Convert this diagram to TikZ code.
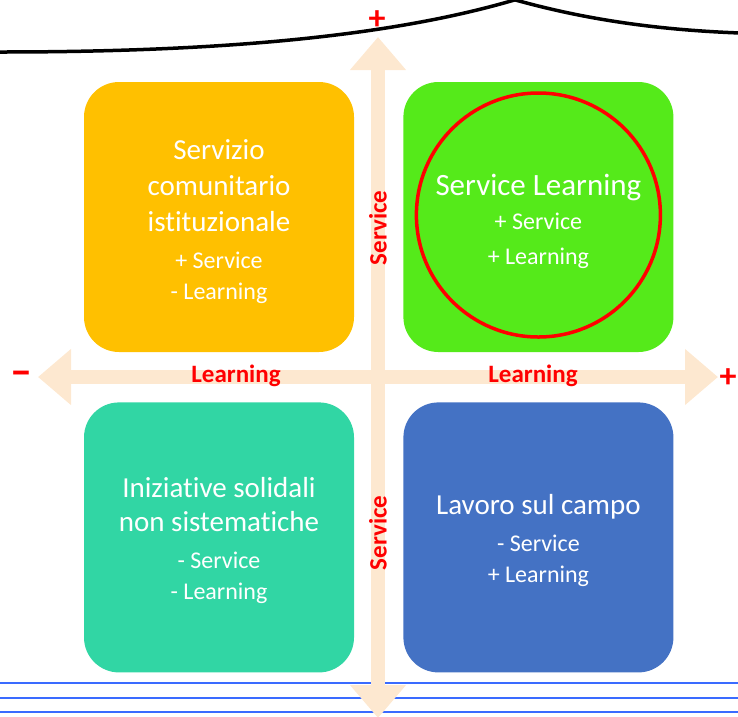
\documentclass[tikz,border=0pt]{standalone}
\usepackage{fontspec}
\setmainfont{Carlito}[Ligatures=NoCommon]
\usetikzlibrary{arrows.meta,positioning}
\definecolor{amber}{HTML}{FFC000}
\definecolor{lime}{HTML}{55EA1A}
\definecolor{mint}{HTML}{31D6A4}
\definecolor{steel}{HTML}{4472C4}
\definecolor{peach}{HTML}{FDE8D0}
\definecolor{rule}{HTML}{3A6BFF}
\newcommand\subtxt{\fontsize{24}{31}\selectfont}

\begin{document}
\begin{tikzpicture}[x=1pt, y=-1pt,
    quadbox/.style={rounded corners=35pt, minimum width=270pt, minimum height=270pt,
        inner sep=0pt, text=white, align=center, font=\fontsize{29}{36}\selectfont},
    arrowbar/.style={draw=peach, line width=13.5pt,
        {Triangle[width=54pt,length=33pt]}-{Triangle[width=54pt,length=33pt]}},
    lbl/.style={text=red, font=\bfseries\fontsize{25}{25}\selectfont},
    sign/.style={text=red, inner sep=0pt, font=\bfseries\fontsize{34}{34}\selectfont}]
    \useasboundingbox (0,0) rectangle (738,716);

    % curves on top
    \begin{scope}
    \clip (0,0) rectangle (738,716);
    \draw[line width=3.5pt] (0,52) .. controls (250,52) and (420,32) .. (540,-8);
    \draw[line width=3.5pt] (495,-6) .. controls (580,20) and (660,30) .. (740,33);
    \end{scope}

    % quadrants
    \node[quadbox, fill=amber] (sci) at (219,217)
        {\rule{0pt}{29pt}Servizio\\comunitario\\istituzionale\\[1pt]\subtxt + Service\\[-5pt]\subtxt - Learning};
    \node[quadbox, fill=lime, right=49pt of sci] (sl)
        {\fontsize{31}{36}\selectfont\rule{0pt}{30pt}Service Learning\\[-2pt]\subtxt + Service\\[-1pt]\subtxt + Learning};
    \node[quadbox, fill=mint, below=50pt of sci] (ins)
        {\rule{0pt}{26pt}Iniziative solidali\\[-2pt]non sistematiche\\[1pt]\subtxt - Service\\[-5pt]\subtxt - Learning};
    \node[quadbox, fill=steel, right=49pt of ins] (lsc)
        {\rule{0pt}{26pt}Lavoro sul campo\\[1pt]\subtxt - Service\\[-5pt]\subtxt + Learning};
    \draw[red, line width=3.5pt] ([yshift=2pt]sl.center) circle[radius=122];

    % lines at the bottom
    \foreach \y in {683,698,712}
        \draw[rule, line width=2.5pt] (0,\y) -- (738,\y);

    % axes
    \coordinate (top) at (378,37);
    \coordinate (bot) at (378,718);
    \coordinate (lft) at (38,377);
    \coordinate (rgt) at (718,377);
    \draw[arrowbar] (bot) -- (top);
    \draw[arrowbar] (lft) -- (rgt);

    \node[lbl] (learnL) at (236,376) {Learning};
    \node[lbl] (learnR) at (533,376) {Learning};
    \node[lbl, rotate=90] (servT) at (378,228) {Service};
    \node[lbl, rotate=90] (servB) at (378,533) {Service};
    \node[sign] (plusT) at (377,20) {+};
    \node[sign, font=\bfseries\fontsize{44}{44}\selectfont] (minusL) at (21,378) {–};
    \node[sign] (plusR) at (728,378) {+};
\end{tikzpicture}
\end{document}
